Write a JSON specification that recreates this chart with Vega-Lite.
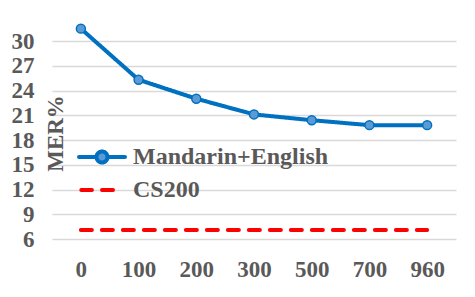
{
  "$schema": "https://vega.github.io/schema/vega-lite/v6.json",
  "width": 404,
  "height": 198,
  "autosize": "none",
  "padding": {"left": 52, "top": 41, "right": 19, "bottom": 58},
  "background": "white",
  "config": {
    "view": {"stroke": null},
    "font": "Liberation Serif"
  },
  "data": {
    "values": [
      {"x": "0", "series": "Mandarin+English", "mer": 31.5},
      {"x": "100", "series": "Mandarin+English", "mer": 25.3},
      {"x": "200", "series": "Mandarin+English", "mer": 23.0},
      {"x": "300", "series": "Mandarin+English", "mer": 21.1},
      {"x": "500", "series": "Mandarin+English", "mer": 20.4},
      {"x": "700", "series": "Mandarin+English", "mer": 19.8},
      {"x": "960", "series": "Mandarin+English", "mer": 19.8},
      {"x": "0", "series": "CS200", "mer": 7.1},
      {"x": "100", "series": "CS200", "mer": 7.1},
      {"x": "200", "series": "CS200", "mer": 7.1},
      {"x": "300", "series": "CS200", "mer": 7.1},
      {"x": "500", "series": "CS200", "mer": 7.1},
      {"x": "700", "series": "CS200", "mer": 7.1},
      {"x": "960", "series": "CS200", "mer": 7.1}
    ]
  },
  "encoding": {
    "x": {
      "field": "x", "type": "ordinal", "sort": null,
      "scale": {"type": "point", "padding": 0.5},
      "axis": {
        "title": null, "labelAngle": 0, "domain": false, "ticks": false, "grid": false,
        "labelPadding": 19, "labelFont": "Liberation Serif", "labelFontWeight": "bold",
        "labelFontSize": 23, "labelColor": "#595959"
      }
    },
    "y": {
      "field": "mer", "type": "quantitative",
      "scale": {"domain": [6, 30], "nice": false, "zero": false},
      "axis": {
        "title": "MER%", "values": [6, 9, 12, 15, 18, 21, 24, 27, 30],
        "domain": false, "ticks": false, "grid": true, "gridColor": "#d9d9d9", "gridWidth": 1.5,
        "labelPadding": 18, "labelFont": "Liberation Serif", "labelFontWeight": "bold",
        "labelFontSize": 23, "labelColor": "#595959",
        "titleFont": "Liberation Serif", "titleFontWeight": "bold", "titleFontSize": 23,
        "titleColor": "#595959", "titleAngle": 270, "titleX": 10, "titleY": 92,
        "titleAlign": "center", "titleBaseline": "alphabetic"
      }
    }
  },
  "layer": [
    {
      "mark": {"type": "line", "strokeWidth": 4, "strokeCap": "round", "strokeJoin": "round"},
      "encoding": {
        "color": {
          "field": "series", "type": "nominal",
          "scale": {"domain": ["Mandarin+English", "CS200"], "range": ["#0070C0", "#FF0000"]},
          "legend": {
            "title": null, "orient": "none", "legendX": 38, "legendY": 104,
            "padding": 0, "symbolSize": 400, "symbolStrokeWidth": 4,
            "labelFont": "Liberation Serif", "labelFontWeight": "bold", "labelFontSize": 24,
            "labelColor": "#595959", "labelOffset": 19, "rowPadding": 7, "labelLimit": 0,
            "symbolType": "circle",
            "encode": {
              "symbols": {
                "update": {
                  "shape": [
                    {"test": "datum.value === 'Mandarin+English'", "value": "M-2.3,0H-0.55M0.55,0H2.3M0.55,0A0.55,0.55,0,1,1,-0.55,0A0.55,0.55,0,1,1,0.55,0Z"},
                    {"value": "M-2.07,0H-1.01M0,0H1.1"}
                  ],
                  "fill": [
                    {"test": "datum.value === 'Mandarin+English'", "value": "#5B9BD5"},
                    {"value": "transparent"}
                  ],
                  "strokeDash": {"value": [1, 0]},
                  "strokeCap": {"value": "round"},
                  "strokeWidth": {"value": 4}
                }
              }
            }
          }
        },
        "strokeDash": {
          "field": "series", "type": "nominal",
          "scale": {"domain": ["Mandarin+English", "CS200"], "range": [[1, 0], [11, 10]]},
          "legend": null
        }
      }
    },
    {
      "transform": [{"filter": "datum.series === 'Mandarin+English'"}],
      "mark": {"type": "point", "filled": true, "fill": "#5B9BD5", "stroke": "#0070C0", "strokeWidth": 1.5, "size": 80, "opacity": 1},
      "encoding": {}
    }
  ]
}
